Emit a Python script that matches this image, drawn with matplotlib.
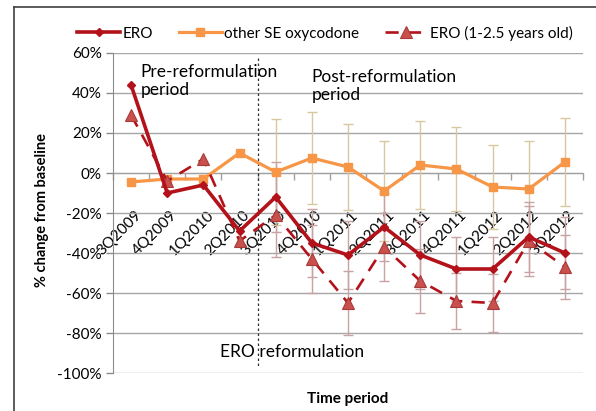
import matplotlib
matplotlib.use("Agg")
import matplotlib.pyplot as plt
import matplotlib.transforms as mtransforms
from matplotlib.lines import Line2D
import numpy as np

plt.rcParams['font.family'] = ['Lato', 'DejaVu Sans']

categories = ['3Q2009', '4Q2009', '1Q2010', '2Q2010', '3Q2010', '4Q2010', '1Q2011',
              '2Q2011', '3Q2011', '4Q2011', '1Q2012', '2Q2012', '3Q2012']
ero = [44, -10, -6, -29, -12, -35, -41, -27, -41, -48, -48, -32, -40]
other_se = [-4.5, -3, -3, 10, 0.5, 7.5, 3, -9, 4, 2, -7, -8, 5.5]
ero_young = [29, -4, 7, -34, -21, -43, -65, -37, -54, -64, -65, -34, -47]

# error bars for the post-reformulation quarters (3Q2010 onwards)
post_start = 4
other_err = [26.5, 23, 21.5, 25, 22, 21, 21, 24, 22]
ero_err = [17.5, 17, 17, 17, 17, 16, 16, 17.5, 18]
young_err = [21, 17, 16, 17, 16, 14, 14.5, 17.5, 16]

yticks = [60, 40, 20, 0, -20, -40, -60, -80, -100]

fig = plt.figure(figsize=(5.96, 4.11), dpi=100)
ax = fig.add_axes([113/596, 1-373/411, 470/596, 320/411])

x = np.arange(len(categories))
xp = x[post_start:]

c_ero = '#B3121A'
c_other = '#F79646'
c_young_fill = '#C9504D'
c_err_other = '#D9C7A0'
c_err_ero = '#C9A3A3'

ax.errorbar(xp, other_se[post_start:], yerr=other_err, fmt='none', ecolor=c_err_other,
            elinewidth=1, capsize=3.5, capthick=1, zorder=2)
ax.errorbar(xp, ero[post_start:], yerr=ero_err, fmt='none', ecolor=c_err_ero,
            elinewidth=1, capsize=3.5, capthick=1, zorder=2)
ax.errorbar(xp, ero_young[post_start:], yerr=young_err, fmt='none', ecolor=c_err_ero,
            elinewidth=1, capsize=3.5, capthick=1, zorder=2)

dash = (0, (5, 3.5))
ax.plot(x, other_se, color=c_other, lw=2.3, marker='s', ms=5.5, mfc=c_other, mec=c_other,
        zorder=4, label='other SE oxycodone')
ax.plot(x, ero_young, color=c_ero, lw=1.9, ls=dash, marker='^', ms=9,
        mfc=c_young_fill, mec='#A83A38', mew=0.8, zorder=5, label='ERO (1-2.5 years old)')
ax.plot(x, ero, color=c_ero, lw=2.6, marker='D', ms=4.5, mfc=c_ero, mec=c_ero,
        zorder=6, label='ERO')

ax.set_xlim(-0.5, len(categories) - 0.5)
ax.set_ylim(-100, 60)
ax.set_yticks(yticks)
ax.set_yticklabels([f'{v}%' for v in yticks], fontsize=11)
ax.yaxis.grid(True, color='#A6A6A6', lw=1)
ax.set_axisbelow(True)

for s in ['top', 'right']:
    ax.spines[s].set_visible(False)
ax.spines['left'].set_color('#8C8C8C')
ax.spines['bottom'].set_position(('data', 0))
ax.spines['bottom'].set_color('#A0A0A0')
ax.spines['bottom'].set_zorder(1)

ax.tick_params(axis='y', length=5, width=1, color='#8C8C8C', pad=3)
ax.set_xticks(x)
ax.set_xticks(np.arange(-0.5, len(categories), 1), minor=True)
ax.tick_params(axis='x', which='minor', length=5, width=1, color='#A0A0A0', direction='out')
ax.tick_params(axis='x', which='major', length=0, pad=29)
ax.set_xticklabels(categories, rotation=45, ha='right', va='center',
                   rotation_mode='anchor', fontsize=11)
offset = mtransforms.ScaledTranslation(8/100, 0, fig.dpi_scale_trans)
for lbl in ax.get_xticklabels():
    lbl.set_transform(lbl.get_transform() + offset)

ax.set_ylabel('% change from baseline', fontsize=10.5, fontweight='bold')
ax.yaxis.set_label_coords(-0.136, 0.51)
ax.set_xlabel('Time period', fontsize=11, fontweight='bold')
ax.xaxis.set_label_coords(0.5, -0.06)

# reformulation marker
ax.plot([3.5, 3.5], [57.5, -97.5], color='#303030', lw=0.9, ls=(0, (2, 2)), zorder=3)
ax.text(0.27, 46, 'Pre-reformulation\nperiod', fontsize=12.5, ha='left', va='center',
        linespacing=1.2, zorder=7)
ax.text(5.0, 43.5, 'Post-reformulation\nperiod', fontsize=12.5, ha='left', va='center',
        linespacing=1.2, zorder=7)
ax.text(2.46, -89.5, 'ERO reformulation', fontsize=12.5, ha='left', va='center', zorder=7)

handles = [
    Line2D([], [], color=c_ero, lw=2.6, marker='D', ms=4.5),
    Line2D([], [], color=c_other, lw=2.3, marker='s', ms=5.5),
    Line2D([], [], color=c_ero, lw=1.9, ls=dash, marker='^', ms=9,
           mfc=c_young_fill, mec='#A83A38', mew=0.8),
]
fig.legend(handles, ['ERO', 'other SE oxycodone', 'ERO (1-2.5 years old)'],
           loc='center', bbox_to_anchor=(325/596, 1-33/411), ncol=3, frameon=False,
           fontsize=11, handlelength=2.8, handletextpad=0.15, columnspacing=1.7)

# outer frame
fig.add_artist(Line2D([14/596, 14/596], [0, 1-7/411], transform=fig.transFigure,
                      color='#404040', lw=1.2))
fig.add_artist(Line2D([14/596, 1], [1-7/411, 1-7/411], transform=fig.transFigure,
                      color='#404040', lw=1.2))

fig.savefig('out.png', dpi=100)
